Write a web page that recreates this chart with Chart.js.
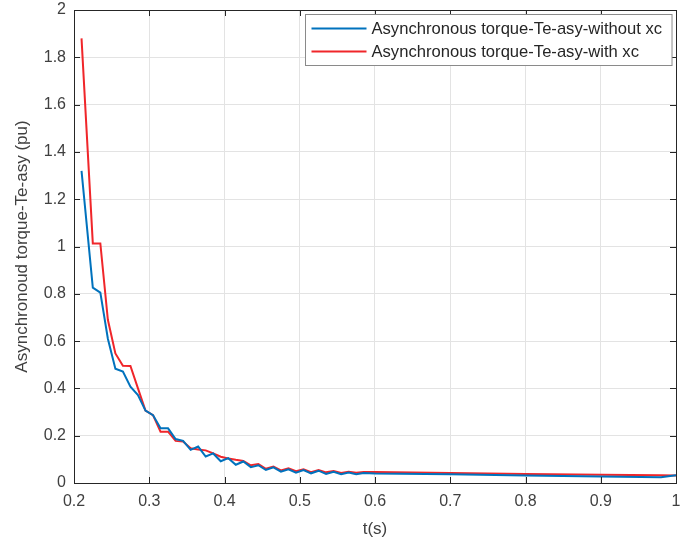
<!DOCTYPE html>
<html>
<head>
<meta charset="utf-8">
<script src="https://cdn.jsdelivr.net/npm/chart.js@4.4.1/dist/chart.umd.min.js"></script>
<style>
    html, body { margin: 0; padding: 0; background: #fff; }
    #wrap { width: 691px; height: 544px; position: relative; }
</style>
</head>
<body>
<div id="wrap"><canvas id="torque"></canvas></div>
<script>
// time samples (s)
const times = [0.21, 0.225, 0.235, 0.245, 0.255, 0.265, 0.275, 0.285, 0.295, 0.305,
    0.315, 0.325, 0.335, 0.345, 0.355, 0.365, 0.375, 0.385, 0.395, 0.405,
    0.415, 0.425, 0.435, 0.445, 0.455, 0.465, 0.475, 0.485, 0.495, 0.505,
    0.515, 0.525, 0.535, 0.545, 0.555, 0.565, 0.575, 0.585, 0.6, 0.7,
    0.8, 0.9, 0.98, 1.0];

// torque without xc (pu)
const withoutXc = [1.32, 0.826, 0.805, 0.61, 0.483, 0.471, 0.407, 0.372, 0.306, 0.287,
    0.231, 0.231, 0.186, 0.178, 0.14, 0.154, 0.112, 0.125, 0.092, 0.105,
    0.077, 0.091, 0.067, 0.075, 0.055, 0.066, 0.048, 0.058, 0.044, 0.055,
    0.041, 0.052, 0.038, 0.047, 0.037, 0.044, 0.037, 0.042, 0.04, 0.037,
    0.032, 0.027, 0.024, 0.033];

// torque with xc (pu)
const withXc = [1.88, 1.013, 1.013, 0.69, 0.548, 0.496, 0.495, 0.40, 0.306, 0.287,
    0.217, 0.217, 0.178, 0.175, 0.147, 0.142, 0.138, 0.125, 0.111, 0.104,
    0.098, 0.093, 0.075, 0.08, 0.06, 0.069, 0.053, 0.062, 0.05, 0.058,
    0.046, 0.055, 0.045, 0.051, 0.042, 0.048, 0.043, 0.046, 0.047, 0.042,
    0.038, 0.035, 0.033, 0.032];

const seriesLabels = ['Asynchronous torque-Te-asy-without xc', 'Asynchronous torque-Te-asy-with xc'];
const seriesColors = ['#0072BD', '#F0262A'];

const xTitle = 't(s)';
const yTitle = 'Asynchronoud torque-Te-asy (pu)';

const fontFamily = "'Liberation Sans', Arial, Helvetica, sans-serif";
Chart.defaults.font.family = fontFamily;
Chart.defaults.font.size = 16;
Chart.defaults.color = '#404040';

function toPoints(values) {
    return values.map((v, i) => ({ x: times[i], y: v }));
}

function fmt(value) {
    return parseFloat(value.toFixed(1)).toString();
}

// box around the axes with inward ticks, like a matlab figure
const boxPlugin = {
    id: 'boxPlugin',
    afterDatasetsDraw(chart) {
        const ctx = chart.ctx;
        const area = chart.chartArea;
        const xs = chart.scales.x;
        const ys = chart.scales.y;
        const tick = 6;
        ctx.save();
        ctx.strokeStyle = '#262626';
        ctx.lineWidth = 1;
        ctx.strokeRect(Math.round(area.left) + 0.5, Math.round(area.top) + 0.5,
            Math.round(area.right - area.left), Math.round(area.bottom - area.top));
        ctx.beginPath();
        xs.ticks.forEach(t => {
            const px = Math.round(xs.getPixelForValue(t.value)) + 0.5;
            ctx.moveTo(px, area.bottom);
            ctx.lineTo(px, area.bottom - tick);
            ctx.moveTo(px, area.top);
            ctx.lineTo(px, area.top + tick);
        });
        ys.ticks.forEach(t => {
            const py = Math.round(ys.getPixelForValue(t.value)) + 0.5;
            ctx.moveTo(area.left, py);
            ctx.lineTo(area.left + tick, py);
            ctx.moveTo(area.right, py);
            ctx.lineTo(area.right - tick, py);
        });
        ctx.stroke();

        // legend box in the top right corner
        ctx.font = '16.6px ' + fontFamily;
        const textW = Math.max(...seriesLabels.map(s => ctx.measureText(s).width));
        const lineLen = 55;
        const boxW = 6 + lineLen + 5 + textW + 10;
        const boxH = 51;
        const bx = Math.round(area.right - 4 - boxW) + 0.5;
        const by = Math.round(area.top + 4) + 0.5;
        ctx.fillStyle = '#ffffff';
        ctx.fillRect(bx, by, boxW, boxH);
        ctx.strokeStyle = '#8a8a8a';
        ctx.strokeRect(bx, by, boxW, boxH);
        ctx.textBaseline = 'middle';
        ctx.textAlign = 'left';
        seriesLabels.forEach((label, i) => {
            const ly = by + 14 + i * 23;
            ctx.strokeStyle = seriesColors[i];
            ctx.lineWidth = 2;
            ctx.beginPath();
            ctx.moveTo(bx + 6, ly);
            ctx.lineTo(bx + 6 + lineLen, ly);
            ctx.stroke();
            ctx.fillStyle = '#262626';
            ctx.fillText(label, bx + 6 + lineLen + 5, ly + 1);
        });
        ctx.restore();
    }
};

const ctx = document.getElementById('torque').getContext('2d');
new Chart(ctx, {
    type: 'line',
    data: {
        datasets: [
            {
                label: seriesLabels[0],
                data: toPoints(withoutXc),
                borderColor: seriesColors[0],
                borderWidth: 2,
                pointRadius: 0,
                tension: 0,
                fill: false
            },
            {
                label: seriesLabels[1],
                data: toPoints(withXc),
                borderColor: seriesColors[1],
                borderWidth: 2,
                pointRadius: 0,
                tension: 0,
                fill: false
            }
        ]
    },
    options: {
        responsive: true,
        maintainAspectRatio: false,
        animation: false,
        layout: { padding: { left: 0, right: 15, top: 10, bottom: 0 } },
        plugins: {
            legend: { display: false },
            tooltip: { enabled: false }
        },
        scales: {
            x: {
                type: 'linear',
                min: 0.2,
                max: 1,
                ticks: { stepSize: 0.1, padding: 9, callback: fmt, maxRotation: 0 },
                grid: { color: '#e3e3e3', drawTicks: false },
                border: { display: false },
                title: { display: true, text: xTitle, font: { size: 17 }, padding: { top: 0, bottom: 4 } },
                afterFit: scale => { scale.height = 61; }
            },
            y: {
                min: 0,
                max: 2,
                ticks: { stepSize: 0.2, padding: 8, callback: fmt },
                grid: { color: '#e3e3e3', drawTicks: false },
                border: { display: false },
                title: { display: true, text: yTitle, font: { size: 17 }, padding: { top: 12, bottom: 0 } },
                afterFit: scale => {
                    scale.width = 74;
                    // let the layout padding decide where the axes box starts
                    scale.paddingTop = 0;
                    scale.paddingBottom = 0;
                }
            }
        }
    },
    plugins: [boxPlugin]
});
</script>
</body>
</html>
